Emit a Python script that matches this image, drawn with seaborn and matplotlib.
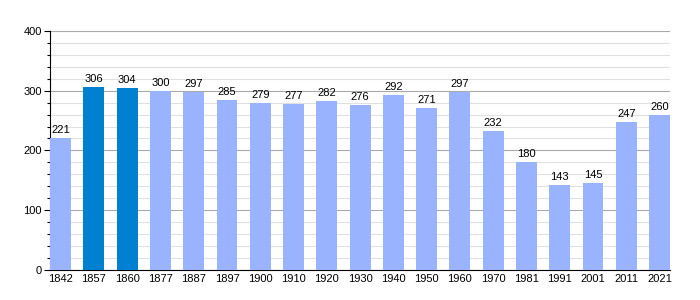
import matplotlib
matplotlib.use("Agg")
import matplotlib.pyplot as plt
import seaborn as sns
import pandas as pd
from matplotlib.ticker import MultipleLocator

years = ["1842", "1857", "1860", "1877", "1887", "1897", "1900", "1910", "1920", "1930",
         "1940", "1950", "1960", "1970", "1981", "1991", "2001", "2011", "2021"]
population = [221, 306, 304, 300, 297, 285, 279, 277, 282, 276,
              292, 271, 297, 232, 180, 143, 145, 247, 260]
highlight = ["1857", "1860"]

sns.set_theme(style="white")
plt.rcParams['font.family'] = ['Liberation Sans', 'DejaVu Sans']

df = pd.DataFrame({"year": years, "pop": population})
df["kind"] = ["dark" if y in highlight else "light" for y in years]

fig = plt.figure(figsize=(7, 3), dpi=100)
ax = fig.add_axes([0.0714, 0.1, 0.886, 0.797])

sns.barplot(data=df, x="year", y="pop", hue="kind",
            palette={"light": "#99b3ff", "dark": "#0080d0"}, saturation=1,
            dodge=False, width=0.63, legend=False, ax=ax, zorder=3, linewidth=0)

for i, v in enumerate(population):
    ax.text(i, v + 5, str(v), ha="center", va="bottom", fontsize=8, color="#000000", zorder=4)

ax.set_ylim(0, 400)
ax.set_xlim(-0.32, 18.32)
ax.yaxis.set_major_locator(MultipleLocator(100))
ax.yaxis.set_minor_locator(MultipleLocator(20))
ax.grid(axis="y", which="major", color="#aaaaaa", linewidth=0.8, zorder=0)
ax.grid(axis="y", which="minor", color="#e0e0e0", linewidth=0.8, zorder=0)
ax.set_axisbelow(True)
ax.tick_params(axis="y", which="major", length=4, width=0.8, color="#000000", left=True,
               labelsize=8, pad=2, labelcolor="#000000")
ax.tick_params(axis="y", which="minor", length=2, width=0.8, color="#000000", left=True)
ax.tick_params(axis="x", length=0, labelsize=8, pad=3, labelcolor="#000000")
ax.set_xlabel("")
ax.set_ylabel("")
for s in ["top", "right"]:
    ax.spines[s].set_visible(False)
for s in ["left", "bottom"]:
    ax.spines[s].set_color("#000000")
    ax.spines[s].set_linewidth(0.8)

fig.savefig("out.png", dpi=100)
